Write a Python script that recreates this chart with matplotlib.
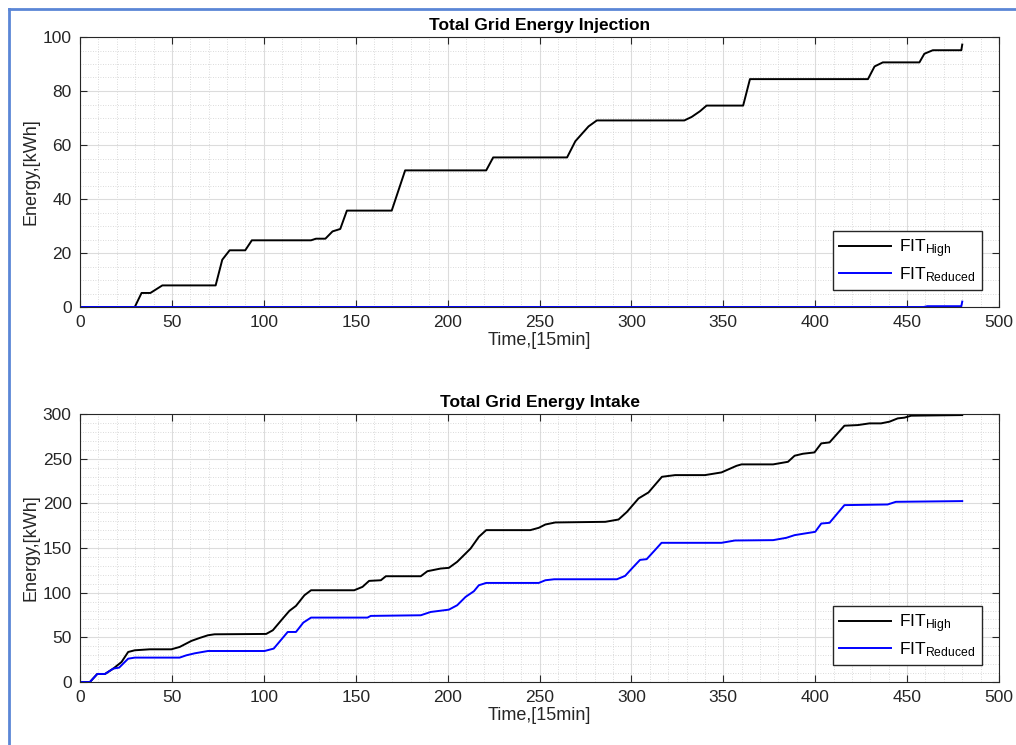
import matplotlib.pyplot as plt
from matplotlib.lines import Line2D
from matplotlib.ticker import MultipleLocator

plt.rcParams['font.family'] = ['Liberation Sans', 'DejaVu Sans']
plt.rcParams['mathtext.fontset'] = 'custom'
plt.rcParams['mathtext.rm'] = 'Liberation Sans'
plt.rcParams['mathtext.it'] = 'Liberation Sans'

# --- Total Grid Energy Injection ---
inj_high_t = [0, 29.8, 33.5, 38.3, 44.8, 73.8, 77.4, 81.4, 89.9, 93.5, 125.7, 128.4,
              133.5, 137.4, 141.6, 145.2, 169.6, 176.9, 221, 224.8, 265, 269.5, 276.7,
              281.2, 328.8, 332.8, 337.3, 340.9, 360.8, 364.5, 428.7, 432.3, 436.8,
              456.7, 459.4, 464, 479.5, 480]
inj_high_e = [0, 0, 5.2, 5.2, 8.0, 8.0, 17.5, 21.0, 21.0, 24.7, 24.7, 25.3,
              25.3, 28.0, 28.9, 35.7, 35.7, 50.6, 50.6, 55.4, 55.4, 61.4, 66.9,
              69.1, 69.1, 70.4, 72.5, 74.6, 74.6, 84.4, 84.4, 89.1, 90.6,
              90.6, 93.8, 95.1, 95.1, 97.2]
inj_red_t = [0, 459, 461, 479.5, 480]
inj_red_e = [0, 0, 0.3, 0.3, 2.0]

# --- Total Grid Energy Intake ---
int_high_t = [0, 5.4, 9.4, 13.6, 18.1, 22.6, 26.2, 29.8, 38, 49.7, 54.2, 60.6, 65.1,
              69.6, 73.2, 101.3, 104.9, 110.3, 113.9, 117.5, 122.1, 125.7, 149.2,
              153.7, 157.3, 163.7, 166.4, 185.4, 189, 196.2, 200.7, 205.2, 212.5,
              217, 221, 245, 249.6, 253.2, 258.6, 285.8, 293, 297.6, 303.9, 309.3,
              316.6, 323.8, 340, 349, 357.2, 359.9, 377.1, 385.2, 388.8, 393.3,
              399.6, 403.3, 407.8, 415.9, 423.2, 429.5, 435.8, 440.4, 444.9, 448.5,
              452.2, 480]
int_high_e = [0, 0, 9.0, 9.0, 15.0, 22.4, 33.6, 35.5, 36.6, 36.6, 39.2, 46.0, 49.3,
              52.3, 53.4, 53.8, 57.9, 71.0, 79.6, 85.2, 97.1, 102.7, 102.7,
              106.5, 113.2, 113.9, 118.4, 118.4, 124.0, 127.0, 127.8, 134.5, 149.4,
              162.5, 170.0, 170.0, 172.6, 176.3, 178.6, 179.3, 181.9, 190.5, 205.5, 212.2,
              229.7, 231.6, 231.6, 234.6, 242.0, 243.6, 243.6, 246.5, 253.3, 255.5,
              257.0, 267.1, 268.2, 286.9, 287.6, 289.5, 289.5, 291.4, 295.1, 295.9,
              298.1, 298.8]
int_red_t = [0, 5.4, 9.4, 13.6, 18.1, 21.3, 26.2, 29.8, 54.2, 57.9, 62.4, 69.6, 100.4,
             105.4, 113, 117.5, 121.5, 125.7, 156.4, 158.2, 185.4, 190.8, 200.7,
             205.2, 209.8, 214.3, 217, 221, 249.6, 253.2, 258, 292.1, 296.6, 301.1,
             304.7, 308.3, 312.8, 316.4, 349, 356.3, 377.1, 384.3, 388.8, 394.2,
             400, 403.3, 407.8, 415.9, 439.4, 443.9, 480]
int_red_e = [0, 0, 9.0, 9.0, 15.0, 16.1, 26.1, 27.3, 27.3, 29.9, 32.1, 34.7, 34.7,
             37.4, 56.0, 56.0, 66.5, 72.1, 72.1, 74.0, 74.7, 78.4, 81.0,
             85.9, 95.3, 101.6, 108.3, 110.9, 110.9, 113.9, 115.0, 115.0, 118.8, 128.9,
             136.7, 137.5, 147.6, 155.8, 155.8, 158.4, 158.8, 161.4, 164.4, 166.2,
             168.1, 177.4, 178.2, 198.0, 198.7, 201.7, 202.5]

labels = [r'FIT$_{\mathrm{High}}$', r'FIT$_{\mathrm{Reduced}}$']
AXC = '#262626'

fig = plt.figure(figsize=(10.16, 7.45), dpi=100)
ax1 = fig.add_axes([80 / 1016, 1 - 307 / 745, 919 / 1016, 270 / 745])
ax2 = fig.add_axes([80 / 1016, 1 - 682 / 745, 919 / 1016, 268 / 745])


def style(ax, ymax, ymajor, yminor, title):
    ax.set_xlim(0, 500)
    ax.set_ylim(0, ymax)
    ax.xaxis.set_major_locator(MultipleLocator(50))
    ax.xaxis.set_minor_locator(MultipleLocator(10))
    ax.yaxis.set_major_locator(MultipleLocator(ymajor))
    ax.yaxis.set_minor_locator(MultipleLocator(yminor))
    ax.grid(which='major', color='#dcdcdc', linestyle='-', linewidth=0.8)
    ax.grid(which='minor', color='#cfcfcf', linestyle=(0, (1, 2)), linewidth=0.6)
    ax.set_axisbelow(True)
    ax.tick_params(which='major', direction='in', length=5, width=0.8, color=AXC,
                   top=True, right=True, labelsize=12.5, labelcolor=AXC, pad=6)
    ax.tick_params(which='minor', length=0)
    for s in ax.spines.values():
        s.set_color(AXC)
        s.set_linewidth(0.8)
    ax.set_title(title, fontsize=12.5, fontweight='bold', pad=5)
    ax.set_xlabel('Time,[15min]', fontsize=13, color=AXC, labelpad=1)
    ax.set_ylabel('Energy,[kWh]', fontsize=13, color=AXC, labelpad=2)
    ax.legend(labels, loc='lower right', fontsize=12.5, fancybox=False, framealpha=1,
              edgecolor=AXC, borderaxespad=1.0, handlelength=3.0, handletextpad=0.5,
              labelspacing=0.3, borderpad=0.35)


ax1.plot(inj_high_t, inj_high_e, color='black', linewidth=1.4)
ax1.plot(inj_red_t, inj_red_e, color='#0000ff', linewidth=1.4)
style(ax1, 100, 20, 5, 'Total Grid Energy Injection')

ax2.plot(int_high_t, int_high_e, color='black', linewidth=1.4)
ax2.plot(int_red_t, int_red_e, color='#0000ff', linewidth=1.4)
style(ax2, 300, 50, 10, 'Total Grid Energy Intake')

# blue window frame around the screenshot
fig.add_artist(Line2D([9 / 1016, 9 / 1016], [0, 1 - 9 / 745], color='#5b86d6', linewidth=2))
fig.add_artist(Line2D([9 / 1016, 1], [1 - 9 / 745, 1 - 9 / 745], color='#5b86d6', linewidth=2))

fig.savefig('out.png', dpi=100)
